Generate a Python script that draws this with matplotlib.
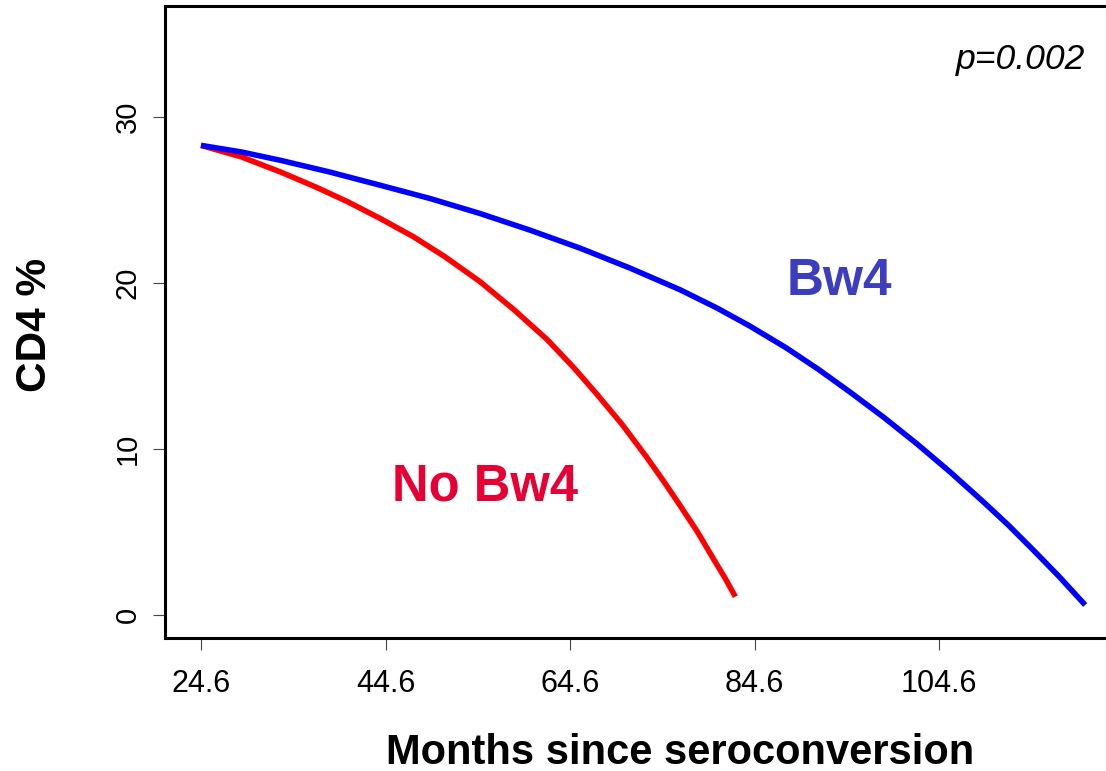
import matplotlib.pyplot as plt
from matplotlib import font_manager

# Curve values (months since seroconversion, CD4 %)
no_bw4_months = [24.6, 29.0, 33.2, 37.0, 40.5, 44.0, 47.6, 51.0, 54.8, 58.5, 62.1,
                 65.0, 67.5, 70.2, 72.9, 74.8, 76.5, 78.4, 80.1, 81.4, 82.5]
no_bw4_cd4 = [28.3, 27.6, 26.7, 25.8, 24.9, 23.9, 22.8, 21.6, 20.1, 18.4, 16.6,
              14.9, 13.3, 11.5, 9.5, 8.0, 6.6, 5.0, 3.4, 2.2, 1.1]

bw4_months = [24.6, 29.0, 33.2, 38.5, 44.0, 49.4, 54.8, 60.2, 65.7, 71.1, 76.5, 80.5,
              84.1, 88.0, 91.5, 95.0, 98.6, 102.2, 105.8, 109.4, 112.1, 114.8, 117.6, 120.4]
bw4_cd4 = [28.3, 27.9, 27.4, 26.7, 25.9, 25.1, 24.2, 23.2, 22.1, 20.9, 19.6, 18.5,
           17.4, 16.1, 14.8, 13.4, 11.9, 10.3, 8.6, 6.8, 5.4, 3.9, 2.3, 0.6]

x_ticks = [24.6, 44.6, 64.6, 84.6, 104.6]
y_ticks = [0, 10, 20, 30]

# fonts (annotations were set in a narrow face in the original)
installed = {f.name for f in font_manager.fontManager.ttflist}
NARROW = "Liberation Sans Narrow" if "Liberation Sans Narrow" in installed else "Liberation Sans"
NARROW_SCALE = 1.0 if NARROW == "Liberation Sans Narrow" else 0.88
plt.rcParams["font.family"] = ["Liberation Sans", "DejaVu Sans"]

W, H = 1106, 771
fig = plt.figure(figsize=(W / 100, H / 100), dpi=100)

# plot region runs past the right edge of the picture (cropped)
left, right, top, bottom = 165, 1195, 6, 638
ax = fig.add_axes([left / W, 1 - bottom / H, (right - left) / W, (bottom - top) / H])

ax.plot(no_bw4_months, no_bw4_cd4, color="#ff0000", lw=4, solid_capstyle="butt",
        solid_joinstyle="round")
ax.plot(bw4_months, bw4_cd4, color="#0000ff", lw=4, solid_capstyle="butt",
        solid_joinstyle="round")

ax.set_xlim(20.7, 132.3)
ax.set_ylim(-1.39, 36.7)

ax.set_xticks(x_ticks)
ax.set_xticklabels([str(v) for v in x_ticks])
ax.set_yticks(y_ticks)
ax.set_yticklabels([str(v) for v in y_ticks], rotation=90, va="center")

ax.tick_params(axis="x", length=8.6, width=0.8, color="#444444", pad=14, labelsize=22)
ax.tick_params(axis="y", length=8.6, width=0.8, color="#444444", pad=8, labelsize=21)

for side in ["left", "bottom", "top"]:
    ax.spines[side].set_linewidth(2.2)
ax.spines["right"].set_visible(False)

# annotations
ax.text(88.1, 19.3, "Bw4", color="#3d3dc0", fontsize=42 * NARROW_SCALE,
        fontweight="bold", family=[NARROW, "DejaVu Sans"], va="baseline")
ax.text(45.3, 6.9, "No Bw4", color="#e60033", fontsize=41.5 * NARROW_SCALE,
        fontweight="bold", family=[NARROW, "DejaVu Sans"], va="baseline")
ax.text(120.4, 32.9, "p=0.002", fontsize=29 * NARROW_SCALE, style="italic",
        family=[NARROW, "DejaVu Sans"], ha="right", va="baseline")

# axis titles
fig.text(680 / W, 1 - 764 / H, "Months since seroconversion", fontsize=30,
         fontweight="bold", ha="center", va="baseline")
fig.text(35 / W, 1 - 325 / H, "CD4 %", fontsize=30.5, fontweight="bold",
         rotation=90, ha="center", va="center")

fig.savefig("out.png", dpi=100)
